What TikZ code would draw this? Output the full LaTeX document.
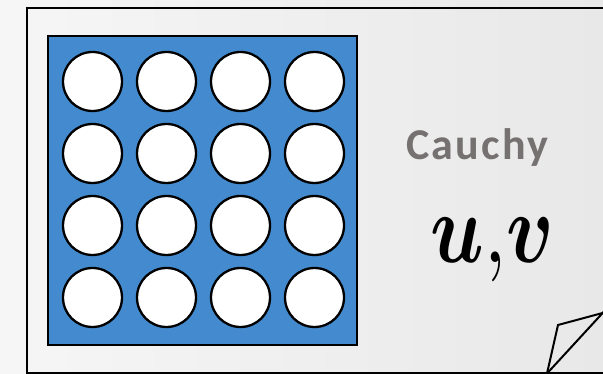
\documentclass[tikz,border=0pt]{standalone}
\usepackage{amsmath}
\usepackage{amssymb}
\usepackage{fontspec}
\newfontfamily\carlito{Carlito}[LetterSpace=5]
\usepackage{tikz}
\usepackage{xcolor}

\definecolor{gridblue}{RGB}{67,139,206}
\definecolor{labelgray}{RGB}{118,113,113}

\tikzset{
  hole/.style={circle,draw,fill=white,line width=2.3pt,minimum size=59pt,inner sep=0pt},
  panel/.style={draw,line width=2pt,fill=gridblue,minimum size=309pt,inner sep=0pt}
}

\begin{document}
\begin{tikzpicture}[x=1pt, y=-1pt]

\useasboundingbox (0,0) rectangle (603,374);

% Background
\fill[left color=gray!7, right color=gray!18] (0,0) rectangle (603,374);

% Frame
\draw[line width=2.6pt] (27,8) rectangle (640,373.5);

% Blue panel
\node[panel] (grid) at (202.75,191) {};

% Holes
\foreach \i in {0,...,3}
  \foreach \j in {0,...,3}
    \node[hole] (c-\i-\j) at (92.5+74*\i, 81.5+72*\j) {};

% Labels
\node[anchor=base west,inner sep=0pt,text=labelgray,font=\carlito\bfseries\fontsize{44}{44}\selectfont] (name) at (406,160) {Cauchy};
\node[anchor=base west,inner sep=0pt,xscale=7.9,yscale=10] (vars) at (429,263) {$\boldsymbol{u}{,}\boldsymbol{v}$};

% Folded corner
\draw[line width=2pt,line join=miter] (547,373.5) -- (558,325) -- (610,311);
\draw[line width=2pt] (547,373.5) -- (610,305);

\end{tikzpicture}
\end{document}
